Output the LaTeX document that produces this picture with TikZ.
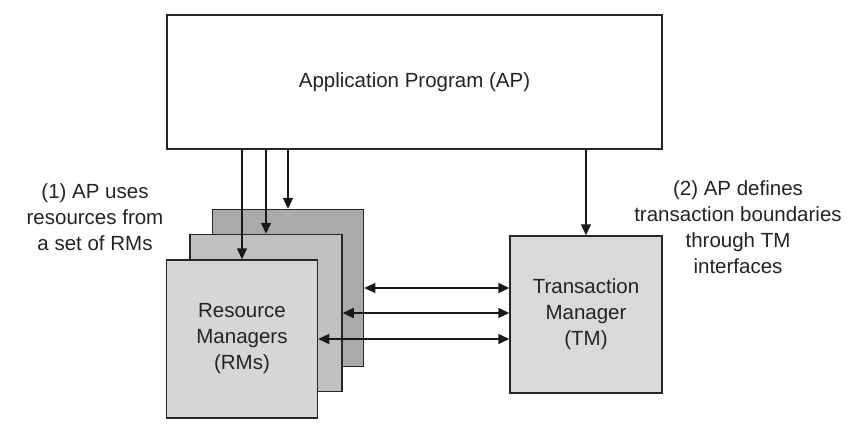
\documentclass[tikz,border=0pt]{standalone}
\usepackage{fontspec}
\setmainfont{Liberation Sans}
\usetikzlibrary{arrows.meta,calc}
\definecolor{rmback}{RGB}{170,170,170}
\definecolor{rmmid}{RGB}{192,192,192}
\definecolor{rmfront}{RGB}{214,214,214}
\definecolor{tmfill}{RGB}{217,217,217}
\definecolor{txt}{RGB}{35,35,35}
\tikzset{
  box/.style={draw=black!85, line width=1.5pt, inner sep=0pt, align=center, text=txt,
    font=\fontsize{20.5}{26}\selectfont},
  lbl/.style={align=center, text=txt, inner sep=0pt, font=\fontsize{20.5}{26}\selectfont},
  arr/.style={draw=black!90, line width=1.5pt, -{Triangle[length=11pt,width=10pt]}},
  darr/.style={draw=black!90, line width=1.5pt, {Triangle[length=11pt,width=10pt]}-{Triangle[length=11pt,width=10pt]}}
}
\begin{document}
\begin{tikzpicture}[x=1pt,y=-1pt]
\useasboundingbox (0,0) rectangle (849,434);
\node[box, minimum width=495pt, minimum height=134pt] (ap) at (414.5,82) {Application Program (AP)};
\node[box, fill=rmback, minimum width=151pt, minimum height=157pt] (rm3) at (288,288) {};
\node[box, fill=rmmid, minimum width=152pt, minimum height=157pt] (rm2) at (266,313) {};
\node[box, fill=rmfront, minimum width=151pt, minimum height=158pt] (rm1) at (242,339) {Resource\\Managers\\(RMs)};
\node[box, fill=tmfill, minimum width=152pt, minimum height=157pt] (tm) at (586,314.5) {Transaction\\Manager\\(TM)};
\node[lbl] (l1) at (95,217) {(1) AP uses\\resources from\\a set of RMs};
\node[lbl] (l2) at (738,227) {(2) AP defines\\transaction boundaries\\through TM\\interfaces};
\draw[arr] (ap.south -| rm1.north) -- (rm1.north);
\draw[arr] (ap.south -| rm2.north) -- (rm2.north);
\draw[arr] (ap.south -| rm3.north) -- (rm3.north);
\draw[arr] (ap.south -| tm.north) -- (tm.north);
\draw[darr] (rm3.east) -- (rm3.east -| tm.west);
\draw[darr] (rm2.east) -- (rm2.east -| tm.west);
\draw[darr] (rm1.east) -- (rm1.east -| tm.west);
\end{tikzpicture}
\end{document}
